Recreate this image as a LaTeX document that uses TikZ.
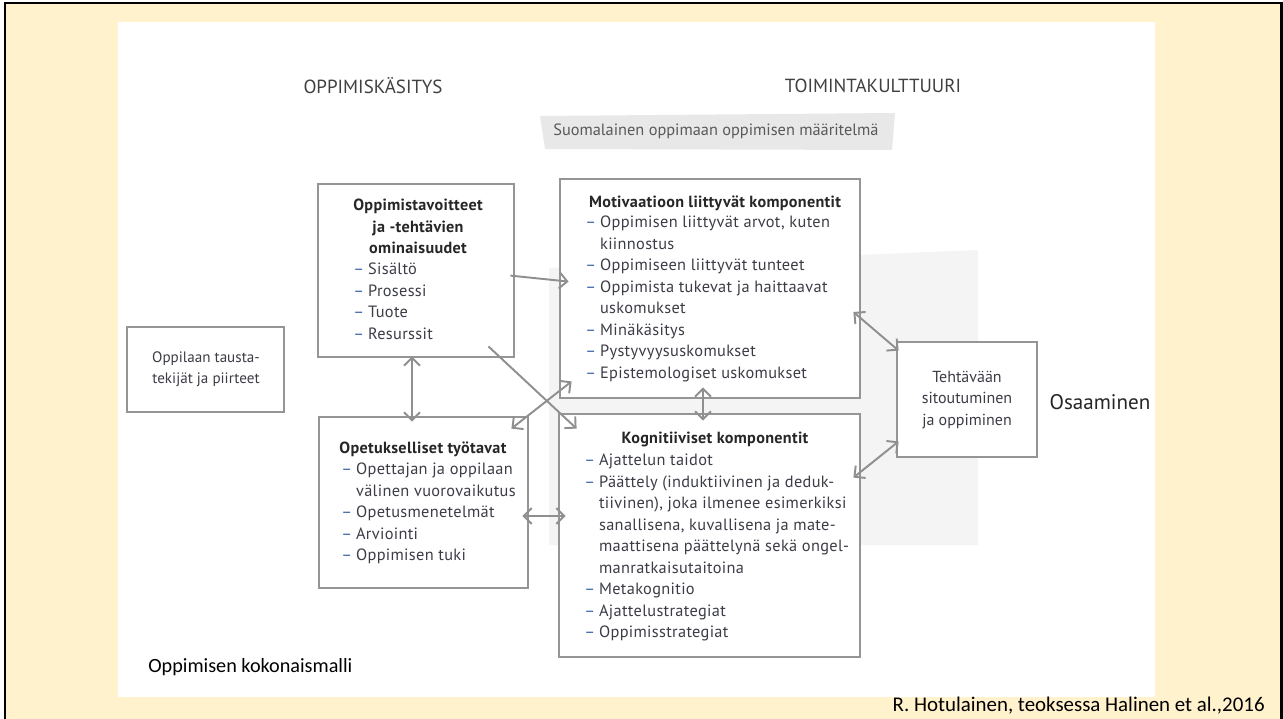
\documentclass[tikz,border=0pt]{standalone}
\usepackage{fontspec}
\setmainfont{PT Sans}
\newfontfamily\slidefont{Carlito}
\newfontfamily\boxfont[LetterSpace=2.0]{PT Sans}
\newfontfamily\boxboldfont[LetterSpace=2.0]{PT Sans Bold}
\usetikzlibrary{arrows.meta,calc,fit}

\definecolor{cream}{HTML}{FFF2CC}
\definecolor{boxgrey}{HTML}{959595}
\definecolor{arrowgrey}{HTML}{8F8F8F}
\definecolor{dashblue}{HTML}{3A63A8}
\definecolor{txtgrey}{HTML}{3C3C46}
\definecolor{bannergrey}{HTML}{E8E8E8}
\definecolor{backgrey}{HTML}{F4F4F4}

\newcommand{\itm}{\makebox[8.4pt][l]{\textcolor{dashblue}{–}}}
\newcommand{\cont}{\hspace*{8.4pt}}

\tikzset{
  box/.style={draw=boxgrey, line width=1.6pt, fill=white, inner sep=0pt},
  oneway/.style={draw=arrowgrey, line width=1.1pt, -{Straight Barb[length=4.5pt,width=9pt]}},
  twoway/.style={draw=arrowgrey, line width=1.1pt, {Straight Barb[length=4.5pt,width=9pt]}-{Straight Barb[length=4.5pt,width=9pt]}},
  heading/.style={font=\fontsize{10.8}{12}\selectfont, text=black!75},
  boxtitle/.style={font=\boxboldfont\fontsize{9.2}{12.2}\selectfont, text=black!85, inner sep=0pt, align=center},
  boxitems/.style={font=\boxfont\fontsize{9.3}{12.2}\selectfont, text=txtgrey, inner sep=0pt, align=left, anchor=north west},
  boxtext/.style={font=\fontsize{8.6}{12.2}\selectfont, text=txtgrey, inner sep=0pt, align=center}
}

\begin{document}
\begin{tikzpicture}[x=0.02cm,y=-0.02cm]
    \useasboundingbox (0,0) rectangle (1283,719);
    \clip (0,0) rectangle (1283,719);

    \fill[white] (0,0) rectangle (1283,719);
    \draw[fill=cream, line width=1.7pt] (5,3) rectangle (1281,730);
    \fill[white] (118,22) rectangle (1155,697);

    \fill[backgrey] (549,268) -- (978,250) -- (978,545) -- (549,545) -- cycle;

    \node[heading] (kasitys) at (373,86) {OPPIMISKÄSITYS};
    \node[heading] (kulttuuri) at (873,86) {TOIMINTAKULTTUURI};

    \fill[bannergrey] (540,116) -- (895,113) -- (892,150) -- (545,149) -- cycle;
    \node[font=\fontsize{9.3}{11}\selectfont, text=black!65, anchor=west, inner sep=0pt] (maaritelma) at (553,131) {Suomalainen oppimaan oppimisen määritelmä};

    \node[box, fit={(318,184) (514,357)}] (goals) {};
    \node[box, fit={(560,179) (860,398)}] (motiv) {};
    \node[box, fit={(127,327) (284,412)}] (pupil) {};
    \node[box, fit={(319,417) (528,588)}] (teach) {};
    \node[box, fit={(559,414) (860,657)}] (cogn) {};
    \node[box, fit={(897,342) (1037,457)}] (engage) {};

    \node[boxtitle, anchor=north] (goalstitle) at (418,199) {Oppimistavoitteet\\ja -tehtävien\\ominaisuudet};
    \node[boxitems] (goalsitems) at (353,263) {\itm Sisältö\\ \itm Prosessi\\ \itm Tuote\\ \itm Resurssit};

    \node[boxtitle, anchor=north] (motivtitle) at (715,195) {Motivaatioon liittyvät komponentit};
    \node[boxitems] (motivitems) at (585,216) {\itm Oppimisen liittyvät arvot, kuten\\ \cont kiinnostus\\ \itm Oppimiseen liittyvät tunteet\\ \itm Oppimista tukevat ja haittaavat\\ \cont uskomukset\\ \itm Minäkäsitys\\ \itm Pystyvyysuskomukset\\ \itm Epistemologiset uskomukset};

    \node[boxtitle, anchor=north west] (teachtitle) at (339,441) {Opetukselliset työtavat};
    \node[boxitems] (teachitems) at (341,463) {\itm Opettajan ja oppilaan\\ \cont välinen vuorovaikutus\\ \itm Opetusmenetelmät\\ \itm Arviointi\\ \itm Oppimisen tuki};

    \node[boxtitle, anchor=north] (cogntitle) at (715,432) {Kognitiiviset komponentit};
    \node[boxitems] (cognitems) at (584,454) {\itm Ajattelun taidot\\ \itm Päättely (induktiivinen ja deduk-\\ \cont tiivinen), joka ilmenee esimerkiksi\\ \cont sanallisena, kuvallisena ja mate-\\ \cont maattisena päättelynä sekä ongel-\\ \cont manratkaisutaitoina\\ \itm Metakognitio\\ \itm Ajattelustrategiat\\ \itm Oppimisstrategiat};

    \node[boxtext] (pupiltext) at (206,369) {Oppilaan tausta-\\tekijät ja piirteet};
    \node[boxtext, font=\fontsize{9.1}{12.2}\selectfont] (engagetext) at (967,400) {Tehtävään\\sitoutuminen\\ja oppiminen};
    \node[font=\fontsize{12}{14}\selectfont, text=black!85] (osaaminen) at (1100,402) {Osaaminen};

    \draw[oneway] ($(goals.north east)+(-5,93)$) -- ($(motiv.north west)+(10,104)$);
    \draw[twoway] ($(goals.south)+(-4,-2)$) -- ($(teach.north)+(-11.5,6)$);
    \draw[oneway] ($(goals.south east)+(-27,-12)$) -- ($(cogn.north west)+(19,16)$);
    \draw[twoway] ($(teach.north east)+(-18,13)$) -- ($(motiv.south west)+(13,-18)$);
    \draw[twoway] ($(motiv.south)+(-7,-12)$) -- ($(cogn.north)+(-6.5,8)$);
    \draw[twoway] ($(teach.east)+(-7,13.5)$) -- ($(cogn.west)+(8,-19.5)$);
    \draw[twoway] ($(motiv.east)+(-8,23.5)$) -- ($(engage.north west)+(3,10)$);
    \draw[twoway] ($(cogn.north east)+(-8,65)$) -- ($(engage.south west)+(3,-17)$);

    \node[font=\slidefont\fontsize{11.5}{14}\selectfont, anchor=west, inner sep=0pt] (malli) at (148,667) {Oppimisen kokonaismalli};
    \node[font=\slidefont\fontsize{11.9}{13}\selectfont, anchor=east, inner sep=0pt] (lahde) at (1265,706) {R. Hotulainen, teoksessa Halinen et al.,2016};
\end{tikzpicture}
\end{document}
